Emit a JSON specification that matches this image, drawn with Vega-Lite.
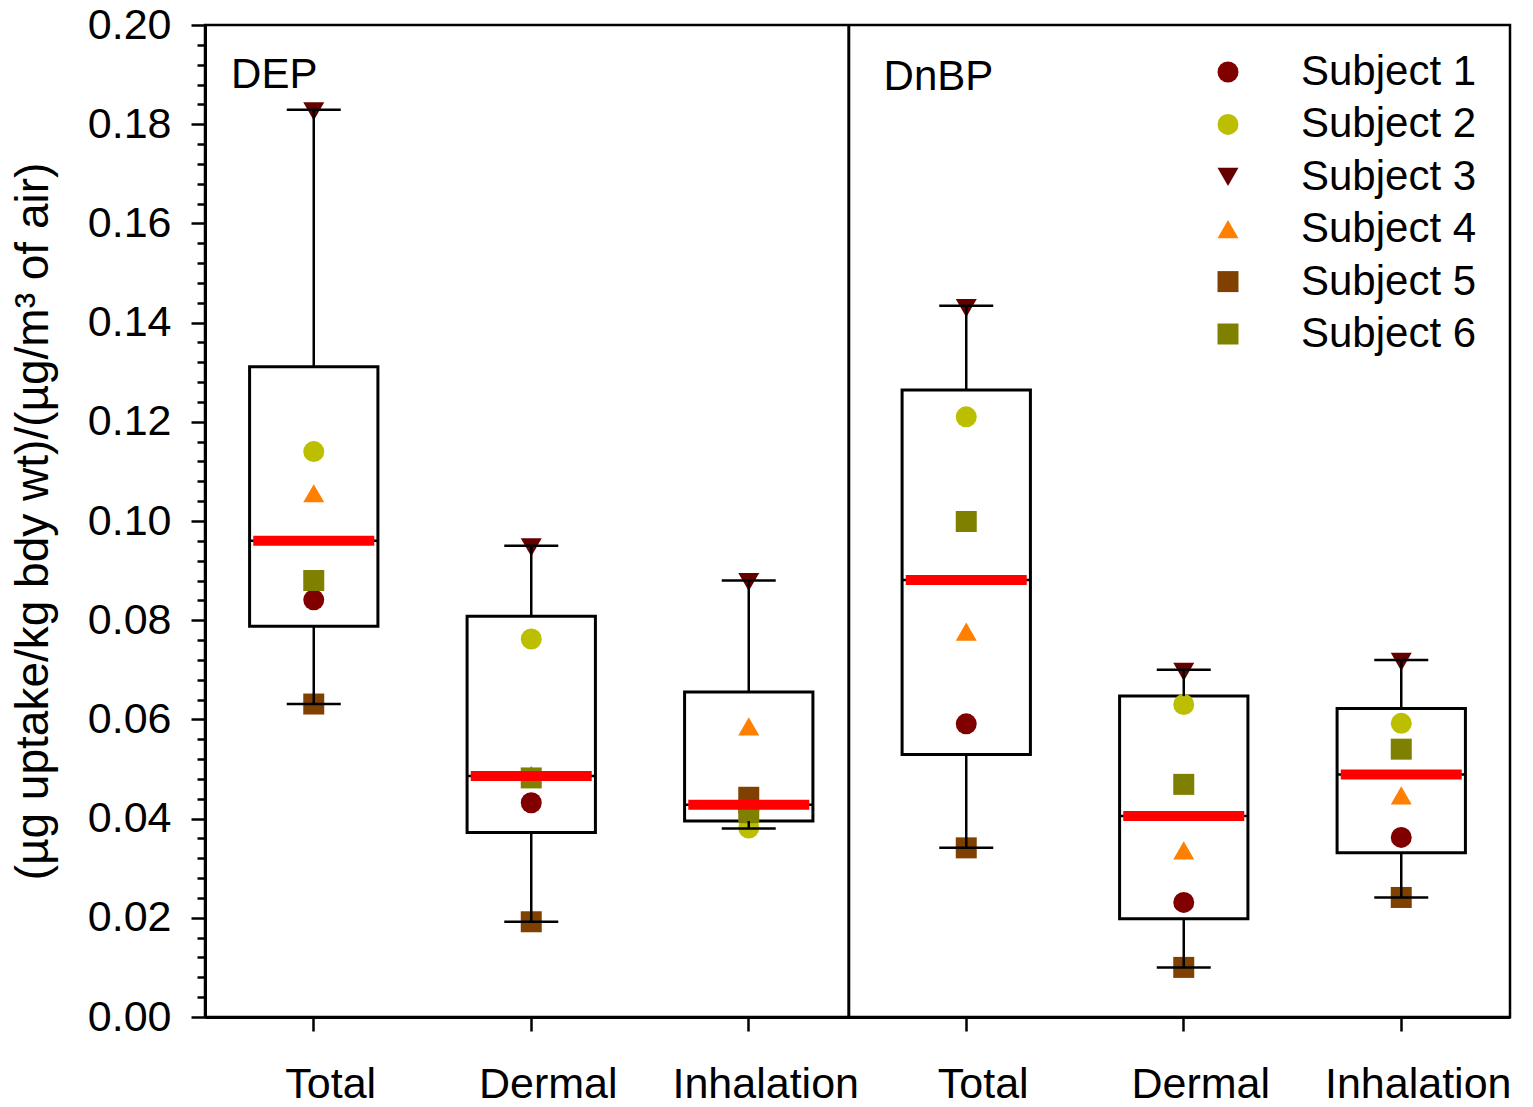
{
  "$schema": "https://vega.github.io/schema/vega-lite/v6.json",
  "autosize": {"type": "none"},
  "padding": {"left": 205, "top": 25, "right": 23, "bottom": 90},
  "width": 1305,
  "height": 992,
  "config": {
    "view": {"stroke": "black", "strokeWidth": 2.5},
    "font": "Liberation Sans",
    "axis": {"labelFont": "Liberation Sans", "titleFont": "Liberation Sans", "labelColor": "black", "titleColor": "black", "domainColor": "black", "tickColor": "black", "grid": false}
  },
  "datasets": {
    "boxes": [
      {"group": "DEP Total", "lo": 0.0631, "q1": 0.0788, "med": 0.0960, "q3": 0.1311, "hi": 0.1829},
      {"group": "DEP Dermal", "lo": 0.0192, "q1": 0.0372, "med": 0.0486, "q3": 0.0808, "hi": 0.0950},
      {"group": "DEP Inhalation", "lo": 0.0380, "q1": 0.0395, "med": 0.0428, "q3": 0.0655, "hi": 0.0880},
      {"group": "DnBP Total", "lo": 0.0341, "q1": 0.0529, "med": 0.0881, "q3": 0.1264, "hi": 0.1434},
      {"group": "DnBP Dermal", "lo": 0.0100, "q1": 0.0198, "med": 0.0405, "q3": 0.0647, "hi": 0.0700},
      {"group": "DnBP Inhalation", "lo": 0.0241, "q1": 0.0331, "med": 0.0489, "q3": 0.0622, "hi": 0.0720}
    ],
    "points": [
      {"group": "DEP Total", "subject": "Subject 1", "value": 0.0841},
      {"group": "DEP Total", "subject": "Subject 2", "value": 0.1140},
      {"group": "DEP Total", "subject": "Subject 3", "value": 0.1826},
      {"group": "DEP Total", "subject": "Subject 4", "value": 0.1056},
      {"group": "DEP Total", "subject": "Subject 5", "value": 0.0631},
      {"group": "DEP Total", "subject": "Subject 6", "value": 0.0880},
      {"group": "DEP Dermal", "subject": "Subject 1", "value": 0.0432},
      {"group": "DEP Dermal", "subject": "Subject 2", "value": 0.0762},
      {"group": "DEP Dermal", "subject": "Subject 3", "value": 0.0947},
      {"group": "DEP Dermal", "subject": "Subject 4", "value": 0.0488},
      {"group": "DEP Dermal", "subject": "Subject 5", "value": 0.0192},
      {"group": "DEP Dermal", "subject": "Subject 6", "value": 0.0482},
      {"group": "DEP Inhalation", "subject": "Subject 1", "value": 0.0416},
      {"group": "DEP Inhalation", "subject": "Subject 2", "value": 0.0381},
      {"group": "DEP Inhalation", "subject": "Subject 3", "value": 0.0877},
      {"group": "DEP Inhalation", "subject": "Subject 4", "value": 0.0586},
      {"group": "DEP Inhalation", "subject": "Subject 5", "value": 0.0443},
      {"group": "DEP Inhalation", "subject": "Subject 6", "value": 0.0412},
      {"group": "DnBP Total", "subject": "Subject 1", "value": 0.0591},
      {"group": "DnBP Total", "subject": "Subject 2", "value": 0.1210},
      {"group": "DnBP Total", "subject": "Subject 3", "value": 0.1429},
      {"group": "DnBP Total", "subject": "Subject 4", "value": 0.0777},
      {"group": "DnBP Total", "subject": "Subject 5", "value": 0.0341},
      {"group": "DnBP Total", "subject": "Subject 6", "value": 0.0999},
      {"group": "DnBP Dermal", "subject": "Subject 1", "value": 0.0231},
      {"group": "DnBP Dermal", "subject": "Subject 2", "value": 0.0630},
      {"group": "DnBP Dermal", "subject": "Subject 3", "value": 0.0696},
      {"group": "DnBP Dermal", "subject": "Subject 4", "value": 0.0336},
      {"group": "DnBP Dermal", "subject": "Subject 5", "value": 0.0100},
      {"group": "DnBP Dermal", "subject": "Subject 6", "value": 0.0469},
      {"group": "DnBP Inhalation", "subject": "Subject 1", "value": 0.0362},
      {"group": "DnBP Inhalation", "subject": "Subject 2", "value": 0.0592},
      {"group": "DnBP Inhalation", "subject": "Subject 3", "value": 0.0716},
      {"group": "DnBP Inhalation", "subject": "Subject 4", "value": 0.0447},
      {"group": "DnBP Inhalation", "subject": "Subject 5", "value": 0.0241},
      {"group": "DnBP Inhalation", "subject": "Subject 6", "value": 0.0540}
    ],
    "labels": [
      {"group": "DEP Total", "text": "DEP", "y": 0.19},
      {"group": "DnBP Total", "text": "DnBP", "y": 0.1895}
    ],
    "divider": [{"group": "DEP Inhalation"}]
  },
  "encoding": {
    "x": {
      "field": "group", "type": "nominal",
      "scale": {"domain": ["DEP Total", "DEP Dermal", "DEP Inhalation", "DnBP Total", "DnBP Dermal", "DnBP Inhalation"], "paddingInner": 0, "paddingOuter": 0},
      "axis": {"title": null, "labelAngle": 0, "labelExpr": "split(datum.label, ' ')[1]", "labelFontSize": 43, "labelPadding": 32, "labelLimit": 500, "labelOffset": 17, "tickSize": 14, "tickWidth": 2.5, "domainWidth": 3, "labelBaseline": "top"}
    }
  },
  "layer": [
    {
      "data": {"name": "boxes"},
      "mark": {"type": "bar", "fill": "white", "stroke": "black", "strokeWidth": 3, "width": {"band": 0.59}},
      "encoding": {
        "y": {
          "field": "q1", "type": "quantitative",
          "scale": {"domain": [0, 0.2], "nice": false, "zero": false},
          "axis": {
            "title": "(µg uptake/kg bdy wt)/(µg/m³ of air)",
            "titleFontSize": 46, "titleFontWeight": "normal", "titlePadding": 30,
            "values": [0, 0.004, 0.008, 0.012, 0.016, 0.02, 0.024, 0.028, 0.032, 0.036, 0.04, 0.044, 0.048, 0.052, 0.056, 0.06, 0.064, 0.068, 0.072, 0.076, 0.08, 0.084, 0.088, 0.092, 0.096, 0.1, 0.104, 0.108, 0.112, 0.116, 0.12, 0.124, 0.128, 0.132, 0.136, 0.14, 0.144, 0.148, 0.152, 0.156, 0.16, 0.164, 0.168, 0.172, 0.176, 0.18, 0.184, 0.188, 0.192, 0.196, 0.2],
            "tickCount": 200,
            "labelExpr": "abs(datum.value*50 - round(datum.value*50)) < 0.01 ? format(datum.value, '.2f') : ''",
            "labelOverlap": false,
            "labelFontSize": 43,
            "labelPadding": 20,
            "tickSize": {"condition": {"test": "abs(datum.value*50 - round(datum.value*50)) < 0.01", "value": 14}, "value": 8},
            "tickWidth": 2.5,
            "domainWidth": 3
          }
        },
        "y2": {"field": "q3"}
      }
    },
    {
      "data": {"name": "points"},
      "mark": {"type": "point", "filled": true, "opacity": 1, "strokeWidth": 0},
      "encoding": {
        "y": {"field": "value", "type": "quantitative"},
        "color": {
          "field": "subject", "type": "nominal",
          "scale": {"domain": ["Subject 1", "Subject 2", "Subject 3", "Subject 4", "Subject 5", "Subject 6"], "range": ["#800000", "#BBBF00", "#660000", "#FF8000", "#804000", "#808000"]},
          "legend": {"orient": "none", "legendX": 1002, "legendY": 26, "title": null, "labelFontSize": 42, "labelFont": "Liberation Sans", "labelColor": "black", "labelOffset": 52, "rowPadding": 10.4, "padding": 0, "symbolStrokeWidth": 0, "labelLimit": 400}
        },
        "shape": {
          "field": "subject", "type": "nominal",
          "scale": {"domain": ["Subject 1", "Subject 2", "Subject 3", "Subject 4", "Subject 5", "Subject 6"], "range": ["circle", "circle", "triangle-down", "triangle-up", "square", "square"]}
        },
        "size": {
          "field": "subject", "type": "nominal",
          "scale": {"domain": ["Subject 1", "Subject 2", "Subject 3", "Subject 4", "Subject 5", "Subject 6"], "range": [441, 441, 441, 441, 361, 361]}
        }
      }
    },
    {
      "data": {"name": "boxes"},
      "mark": {"type": "rule", "color": "black", "strokeWidth": 2.5},
      "encoding": {"y": {"field": "q3", "type": "quantitative"}, "y2": {"field": "hi"}}
    },
    {
      "data": {"name": "boxes"},
      "mark": {"type": "rule", "color": "black", "strokeWidth": 2.5},
      "encoding": {"y": {"field": "lo", "type": "quantitative"}, "y2": {"field": "q1"}}
    },
    {
      "data": {"name": "boxes"},
      "mark": {"type": "tick", "color": "black", "size": 54, "thickness": 2.5, "opacity": 1},
      "encoding": {"y": {"field": "hi", "type": "quantitative"}}
    },
    {
      "data": {"name": "boxes"},
      "mark": {"type": "tick", "color": "black", "size": 54, "thickness": 2.5, "opacity": 1},
      "encoding": {"y": {"field": "lo", "type": "quantitative"}}
    },
    {
      "data": {"name": "boxes"},
      "mark": {"type": "tick", "color": "black", "size": 128, "thickness": 2.5, "opacity": 1},
      "encoding": {"y": {"field": "med", "type": "quantitative"}}
    },
    {
      "data": {"name": "boxes"},
      "mark": {"type": "tick", "color": "#FF0000", "size": 121, "thickness": 10, "opacity": 1},
      "encoding": {"y": {"field": "med", "type": "quantitative"}}
    },
    {
      "data": {"name": "divider"},
      "mark": {"type": "rule", "color": "black", "strokeWidth": 3},
      "encoding": {
        "x": {"field": "group", "type": "nominal", "bandPosition": 0.96,
              "scale": {"domain": ["DEP Total", "DEP Dermal", "DEP Inhalation", "DnBP Total", "DnBP Dermal", "DnBP Inhalation"], "paddingInner": 0, "paddingOuter": 0}}
      }
    },
    {
      "data": {"name": "labels"},
      "mark": {"type": "text", "align": "left", "baseline": "middle", "fontSize": 42, "font": "Liberation Sans", "color": "black"},
      "encoding": {
        "x": {"field": "group", "type": "nominal", "bandPosition": 0.12,
              "scale": {"domain": ["DEP Total", "DEP Dermal", "DEP Inhalation", "DnBP Total", "DnBP Dermal", "DnBP Inhalation"], "paddingInner": 0, "paddingOuter": 0}},
        "y": {"field": "y", "type": "quantitative"},
        "text": {"field": "text"}
      }
    }
  ]
}
